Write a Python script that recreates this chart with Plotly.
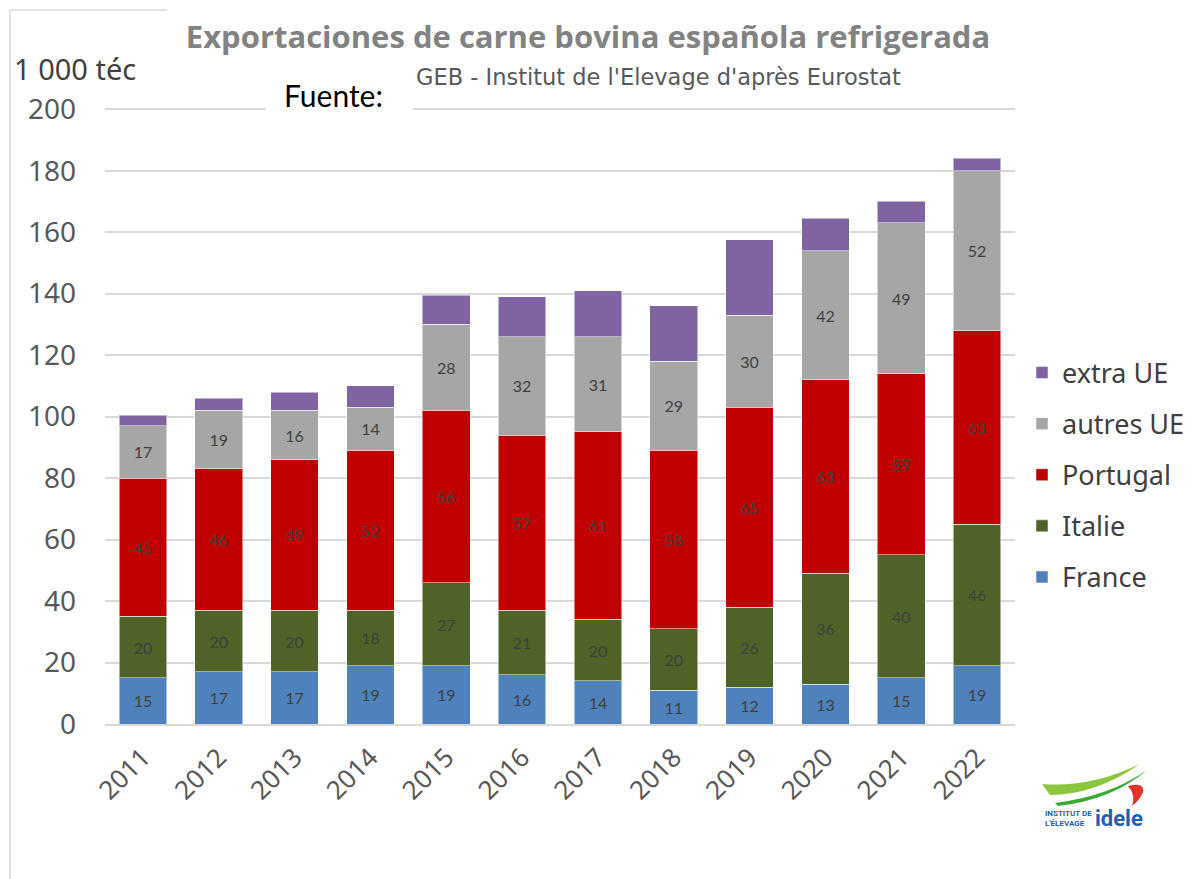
import plotly.graph_objects as go

# Data (1 000 téc)
years = ["2011", "2012", "2013", "2014", "2015", "2016", "2017", "2018", "2019", "2020", "2021", "2022"]
france = [15, 17, 17, 19, 19, 16, 14, 11, 12, 13, 15, 19]
italie = [20, 20, 20, 18, 27, 21, 20, 20, 26, 36, 40, 46]
portugal = [45, 46, 49, 52, 56, 57, 61, 58, 65, 63, 59, 63]
autres_ue = [17, 19, 16, 14, 28, 32, 31, 29, 30, 42, 49, 52]
extra_ue = [3.5, 4, 6, 7, 9.5, 13, 15, 18, 24.5, 10.5, 7, 4]

# page has an 8px body margin, so the figure is drawn 8px smaller
OFF = 8
W, H = 1191 - OFF, 879 - OFF
L, R, T, B = 105, 1015, 108, 724  # plot area in reference pixels


def px(x):
    return (x - L) / (R - L)


def py(y):
    return (B - y) / (B - T)


series = [
    ("France", france, "#4f81bd", True, 5),
    ("Italie", italie, "#4f6228", True, 4),
    ("Portugal", portugal, "#c00000", True, 3),
    ("autres UE", autres_ue, "#a6a6a6", True, 2),
    ("extra UE", extra_ue, "#8064a2", False, 1),
]

fig = go.Figure()
for name, vals, col, lab, rank in series:
    fig.add_trace(go.Bar(
        x=years, y=vals, name=name, legendgroup=name, legendrank=rank,
        marker=dict(color=col, line=dict(color="rgba(255,255,255,0.5)", width=1)),
        text=[str(v) for v in vals] if lab else None,
        textposition="inside" if lab else "none",
        insidetextanchor="middle",
        textangle=0,
        constraintext="none",
        textfont=dict(family="Lato", size=16, color="#404040"),
        hoverinfo="x+y+name",
    ))

fig.update_layout(
    barmode="stack",
    bargap=0.37,
    width=W, height=H,
    margin=dict(l=L - OFF, r=W - (R - OFF), t=T - OFF, b=H - (B - OFF), autoexpand=False),
    paper_bgcolor="white",
    plot_bgcolor="white",
    font=dict(family="Noto Sans", color="#595959"),
    showlegend=True,
    legend=dict(
        x=px(1022), y=py(475), xanchor="left", yanchor="middle",
        traceorder="grouped", tracegroupgap=13,
        font=dict(family="Noto Sans", size=27, color="#404040"),
        itemwidth=30,
    ),
    title=dict(
        text="<b>Exportaciones de carne bovina española refrigerada</b>",
        x=(588 - OFF) / W, y=1 - (37 - OFF) / H, xanchor="center", yanchor="middle",
        font=dict(family="Open Sans", size=31, color="#828282"),
    ),
)

fig.update_yaxes(
    range=[0, 200.4], tickvals=list(range(0, 201, 20)), showgrid=True,
    gridcolor="#d9d9d9", gridwidth=1.5,
    zeroline=False, showline=False,
    tickfont=dict(family="Noto Sans", size=28, color="#595959"),
    ticklabelstandoff=28,
)
fig.update_xaxes(
    tickangle=-45, showline=True, linecolor="#d9d9d9", linewidth=1.5,
    tickfont=dict(family="Noto Sans", size=26, color="#595959"),
    ticks="", ticklabelstandoff=6,
)

annotations = [
    dict(text="1 000 téc", x=px(75), y=py(68), xref="paper", yref="paper",
         showarrow=False, xanchor="center", yanchor="middle",
         font=dict(family="Noto Sans", size=29, color="#404040")),
    dict(text="Fuente:", x=px(333), y=py(95), xref="paper", yref="paper",
         showarrow=False, xanchor="center", yanchor="middle",
         font=dict(family="Lato", size=30, color="#000000")),
    dict(text="GEB - Institut de l'Elevage d'après Eurostat", x=px(414), y=py(77),
         xref="paper", yref="paper", showarrow=False, xanchor="left", yanchor="middle",
         font=dict(family="DejaVu Sans", size=22.5, color="#595959")),
    # logo text
    dict(text="<b>INSTITUT DE<br>L'ÉLEVAGE</b>", x=px(1068), y=py(818), xref="paper", yref="paper",
         showarrow=False, xanchor="center", yanchor="middle", align="left",
         font=dict(family="Roboto", size=8, color="#1f5fb0")),
    dict(text="<b>idele</b>", x=px(1119), y=py(818), xref="paper", yref="paper",
         showarrow=False, xanchor="center", yanchor="middle",
         font=dict(family="Roboto", size=22, color="#1f5fb0")),
]
fig.update_layout(annotations=annotations)

shapes = [
    # white box hiding the top gridline behind "Fuente:"
    dict(type="rect", xref="paper", yref="paper", layer="above",
         x0=px(266), x1=px(413), y0=py(114), y1=py(100),
         fillcolor="white", line=dict(width=0)),
    # logo swooshes
    dict(type="path", xref="paper", yref="paper",
         path=f"M {px(1042)} {py(784)} Q {px(1090)} {py(788)} {px(1140)} {py(764)} "
              f"Q {px(1095)} {py(795)} {px(1050)} {py(795)} Z",
         fillcolor="#8cc63f", line=dict(width=0)),
    dict(type="path", xref="paper", yref="paper",
         path=f"M {px(1055)} {py(803)} Q {px(1110)} {py(796)} {px(1147)} {py(770)} "
              f"Q {px(1112)} {py(800)} {px(1058)} {py(806)} Z",
         fillcolor="#3aaa35", line=dict(width=0)),
    dict(type="path", xref="paper", yref="paper",
         path=f"M {px(1128)} {py(786)} Q {px(1145)} {py(782)} {px(1143)} {py(792)} "
              f"Q {px(1140)} {py(800)} {px(1132)} {py(806)} Q {px(1136)} {py(795)} {px(1128)} {py(786)} Z",
         fillcolor="#e63329", line=dict(width=0)),
    # frame lines of the original picture
    dict(type="line", xref="paper", yref="paper",
         x0=px(10), x1=px(167), y0=py(10), y1=py(10), line=dict(color="#d9d9d9", width=1.5)),
    dict(type="line", xref="paper", yref="paper",
         x0=px(10), x1=px(10), y0=py(10), y1=py(879), line=dict(color="#d9d9d9", width=1.5)),
]
fig.update_layout(shapes=shapes)

fig.write_html("out.html")
